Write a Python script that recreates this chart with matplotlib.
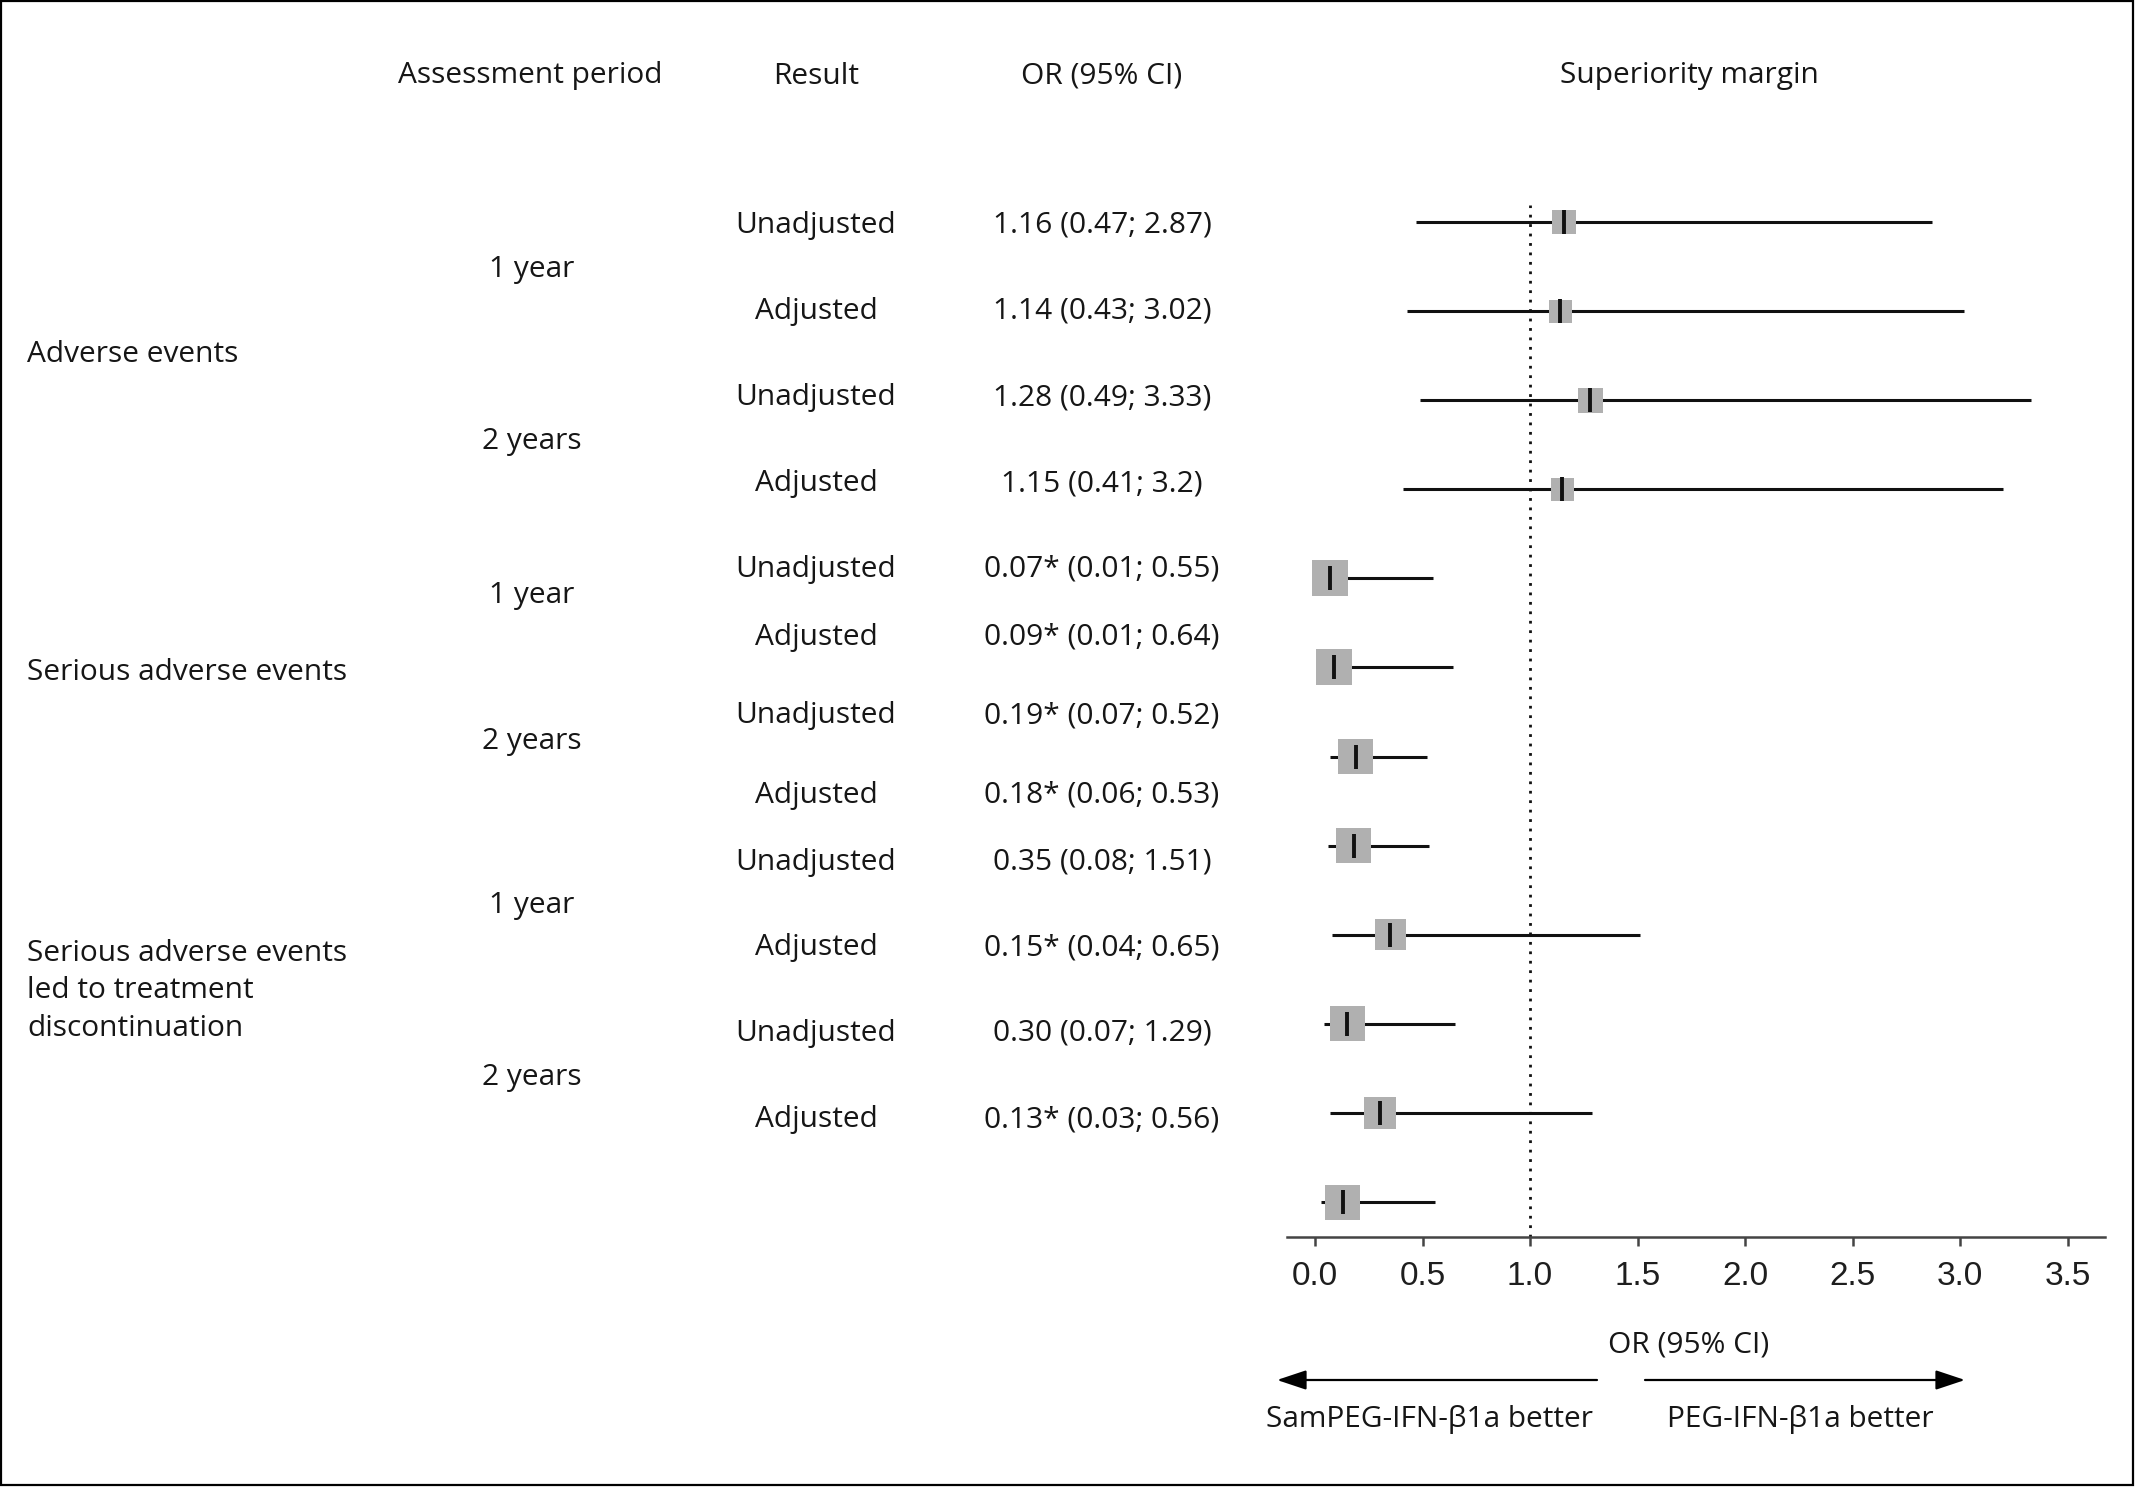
import matplotlib
matplotlib.use("Agg")
import matplotlib.pyplot as plt
from matplotlib.patches import Rectangle, FancyArrowPatch

# ---------------- data ----------------
categories = ["Adverse events", "Serious adverse events",
              "Serious adverse events\nled to treatment\ndiscontinuation"]
periods = ["1 year", "2 years", "1 year", "2 years", "1 year", "2 years"]
results = ["Unadjusted", "Adjusted"] * 6
or_labels = ["1.16 (0.47; 2.87)", "1.14 (0.43; 3.02)", "1.28 (0.49; 3.33)", "1.15 (0.41; 3.2)",
             "0.07* (0.01; 0.55)", "0.09* (0.01; 0.64)", "0.19* (0.07; 0.52)", "0.18* (0.06; 0.53)",
             "0.35 (0.08; 1.51)", "0.15* (0.04; 0.65)", "0.30 (0.07; 1.29)", "0.13* (0.03; 0.56)"]
or_est = [1.16, 1.14, 1.28, 1.15, 0.07, 0.09, 0.19, 0.18, 0.35, 0.15, 0.30, 0.13]
ci_low = [0.47, 0.43, 0.49, 0.41, 0.01, 0.01, 0.07, 0.06, 0.08, 0.04, 0.07, 0.03]
ci_high = [2.87, 3.02, 3.33, 3.2, 0.55, 0.64, 0.52, 0.53, 1.51, 0.65, 1.29, 0.56]
xticks = [0.0, 0.5, 1.0, 1.5, 2.0, 2.5, 3.0, 3.5]
margin = 1.0

# ---------------- style / layout ----------------
box_px = [24, 23, 25, 23, 36, 36, 35, 35, 31, 35, 32, 35]
W, H = 2135, 1492
DPI = 100
PX2PT = 72.0 / DPI
TXT_FONT = ["Open Sans", "DejaVu Sans"]
TXT_SIZE = 21.5
TXT_COLOR = "#161616"
TXT_DY = 3  # px shift down

fig = plt.figure(figsize=(W / DPI, H / DPI), dpi=DPI)
fig.patch.set_facecolor("white")

def fx(px):
    return px / W

def fy(py):
    return 1 - py / H

def ftext(x, y, s, ha="center", **kw):
    fig.text(fx(x), fy(y + TXT_DY), s, ha=ha, va="center", family=TXT_FONT,
             fontsize=TXT_SIZE, color=TXT_COLOR, **kw)

# outer frame
fig.patches.append(Rectangle((fx(1), fy(1485)), fx(2132), fy(1) - fy(1485),
                             transform=fig.transFigure, fill=False,
                             edgecolor="black", linewidth=1.6))

# headers
ftext(530, 73, "Assessment period")
ftext(816, 73, "Result")
ftext(1102, 73, "OR (95% CI)")
ftext(1689, 73, "Superiority margin")

# text rows
row_y = [222, 308, 395, 481, 566, 634, 713, 792, 859, 945, 1030, 1117]
for y, r, o in zip(row_y, results, or_labels):
    ftext(816, y, r)
    ftext(1102, y, o)

period_y = [266, 438, 592, 739, 902, 1074]
for y, p in zip(period_y, periods):
    ftext(532, y, p)

cat_y = [352, 670, 988]
for y, c in zip(cat_y, categories):
    ftext(27, y, c, ha="left", linespacing=1.37)

# ---------------- forest axes ----------------
x0_px, px_per_unit = 1315, 215.0
ax_left_px, ax_right_px = 1287, 2105
ax_top_px, ax_bot_px = 205, 1237
row_top_px, row_bot_px = 222, 1202
n = len(or_est)
unit_y = (row_bot_px - row_top_px) / (n - 1)

ax = fig.add_axes([fx(ax_left_px), fy(ax_bot_px),
                   fx(ax_right_px) - fx(ax_left_px), fy(ax_top_px) - fy(ax_bot_px)])
ax.set_xlim((ax_left_px - x0_px) / px_per_unit, (ax_right_px - x0_px) / px_per_unit)
ax.set_ylim(1 - (ax_bot_px - row_bot_px) / unit_y, n + (row_top_px - ax_top_px) / unit_y)

ypos = list(range(n, 0, -1))
ax.hlines(ypos, ci_low, ci_high, color="#111111", linewidth=2.2, zorder=2)
ax.scatter(or_est, ypos, marker="s", s=[(b * PX2PT) ** 2 for b in box_px],
           color="#b0b0b0", edgecolors="none", zorder=3)
ax.plot(or_est, ypos, linestyle="none", marker="|", markersize=24 * PX2PT,
        markeredgewidth=2.8, color="#111111", zorder=4)
ax.axvline(margin, color="#111111", linewidth=2.0, linestyle=(0, (1, 2.4)), zorder=1)

for s in ["left", "top", "right"]:
    ax.spines[s].set_visible(False)
ax.spines["bottom"].set_color("#444444")
ax.spines["bottom"].set_linewidth(1.8)
ax.set_yticks([])
ax.set_xticks(xticks)
ax.set_xticklabels([f"{t:.1f}" for t in xticks])
ax.tick_params(axis="x", direction="out", length=6.5, width=1.8, color="#444444",
               labelsize=24, labelcolor="#1e1e1e", pad=11)
for lab in ax.get_xticklabels():
    lab.set_family(["Liberation Sans", "DejaVu Sans"])
ax.patch.set_alpha(0)

# axis title and direction arrows
ftext(1689, 1342, "OR (95% CI)")
arrow_y = H - 1380
arrowprops = dict(arrowstyle="-|>,head_length=0.9,head_width=0.3", mutation_scale=20,
                  color="black", linewidth=1.6, shrinkA=0, shrinkB=0)
fig.add_artist(FancyArrowPatch((1597, arrow_y), (1277, arrow_y), transform=None, **arrowprops))
fig.add_artist(FancyArrowPatch((1645, arrow_y), (1965, arrow_y), transform=None, **arrowprops))
ftext(1430, 1417, "SamPEG-IFN-β1a better")
ftext(1800, 1417, "PEG-IFN-β1a better")

fig.savefig("out.png", dpi=DPI, facecolor="white")
